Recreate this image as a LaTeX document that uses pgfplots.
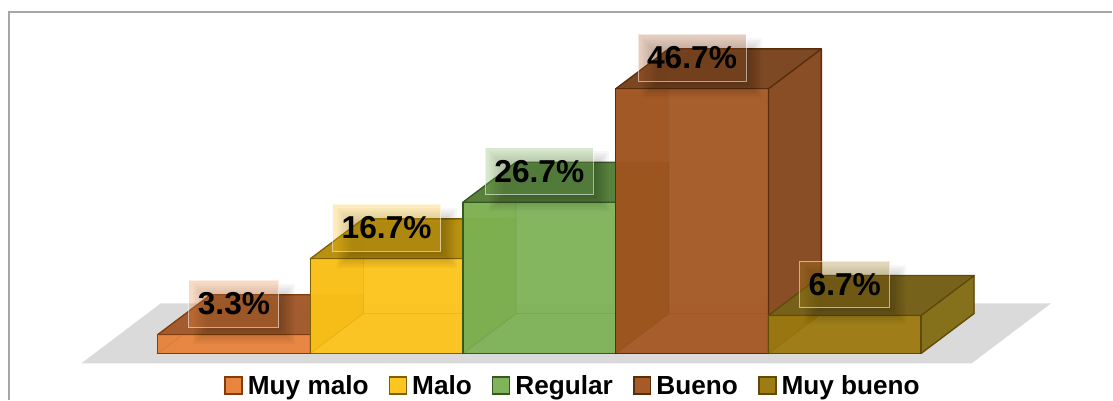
\documentclass[border=0pt]{standalone}
\usepackage{fontspec}
\setmainfont{Liberation Sans}
\usepackage{pgfplots}
\pgfplotsset{compat=1.18}

\definecolor{frameg}{HTML}{A6A6A6}
\definecolor{floorg}{HTML}{DBDADB}
% front, left wall, right wall, top, edge of each bar
\definecolor{oF}{HTML}{E8853F}\definecolor{oL}{HTML}{E07F3A}\definecolor{oR}{HTML}{A65B2C}\definecolor{oT}{HTML}{A05A2E}\definecolor{oE}{HTML}{843C0C}
\definecolor{yF}{HTML}{FCC51F}\definecolor{yL}{HTML}{F0B000}\definecolor{yR}{HTML}{B98E12}\definecolor{yT}{HTML}{B8900F}\definecolor{yE}{HTML}{7F6000}
\definecolor{gF}{HTML}{7FB45A}\definecolor{gL}{HTML}{74A53A}\definecolor{gR}{HTML}{557F3A}\definecolor{gT}{HTML}{557F3A}\definecolor{gE}{HTML}{385723}
\definecolor{bF}{HTML}{A65A28}\definecolor{bL}{HTML}{8F4608}\definecolor{bR}{HTML}{8A4D25}\definecolor{bT}{HTML}{7A4723}\definecolor{bE}{HTML}{5A2D0A}
\definecolor{uF}{HTML}{9E7C14}\definecolor{uL}{HTML}{8F6A00}\definecolor{uR}{HTML}{85701C}\definecolor{uT}{HTML}{75601C}\definecolor{uE}{HTML}{5F4A08}

% x: one unit per bar, y: percent; depth is the oblique offset of the back face
\def\dx{0.347}
\def\dy{7.05}

% \barbox{left}{value}{prefix of the colours}
\newcommand{\barbox}[3]{%
  \pgfmathsetmacro{\xa}{#1}%
  \pgfmathsetmacro{\xb}{#1+1}%
  \pgfmathsetmacro{\xc}{#1+\dx}%
  \pgfmathsetmacro{\xd}{#1+1+\dx}%
  \pgfmathsetmacro{\yt}{#2}%
  \pgfmathsetmacro{\yb}{#2+\dy}%
  % floor and back of the box
  \addplot[forget plot,fill=#3F,fill opacity=.9,draw=#3E,draw opacity=.3,line width=1pt] coordinates {(\xa,0) (\xb,0) (\xd,\dy) (\xc,\dy)} --cycle;
  \addplot[forget plot,fill=#3F,fill opacity=.9,draw=#3E,draw opacity=.3,line width=1pt] coordinates {(\xc,\dy) (\xd,\dy) (\xd,\yb) (\xc,\yb)} --cycle;
  % side walls, top and front
  \addplot[forget plot,fill=#3L,fill opacity=.9,draw=#3E,draw opacity=.3,line width=1pt] coordinates {(\xa,0) (\xc,\dy) (\xc,\yb) (\xa,\yt)} --cycle;
  \addplot[forget plot,fill=#3R,fill opacity=.97,draw=#3E,line width=1.3pt,line join=round] coordinates {(\xb,0) (\xd,\dy) (\xd,\yb) (\xb,\yt)} --cycle;
  \addplot[forget plot,fill=#3T,fill opacity=.95,draw=#3E,line width=1.3pt,line join=round] coordinates {(\xa,\yt) (\xb,\yt) (\xd,\yb) (\xc,\yb)} --cycle;
  \addplot[forget plot,fill=#3F,fill opacity=.72,draw=#3E,line width=1.3pt,line join=round] coordinates {(\xa,0) (\xb,0) (\xb,\yt) (\xa,\yt)} --cycle;
}

% soft shadow layer: \shadowlayer{x}{value}{half width}{grow}
\newcommand{\shadowlayer}[4]{%
  \fill[black,opacity=.03] ([xshift=#3+10pt+#4,yshift=31pt-24pt-10pt-#4]axis cs:#1,#2)
      rectangle ([xshift=-#3+10pt-#4,yshift=31pt+24pt-10pt+#4]axis cs:#1,#2);
}
% \barlabel{centre x}{value}{half width}{tint}
\newcommand{\barlabel}[4]{%
  \shadowlayer{#1}{#2}{#3}{-8pt}\shadowlayer{#1}{#2}{#3}{-6pt}\shadowlayer{#1}{#2}{#3}{-4pt}%
  \shadowlayer{#1}{#2}{#3}{-2pt}\shadowlayer{#1}{#2}{#3}{0pt}\shadowlayer{#1}{#2}{#3}{2pt}%
  \shadowlayer{#1}{#2}{#3}{4pt}\shadowlayer{#1}{#2}{#3}{6pt}%
  \node[fill=#4,fill opacity=.3,draw=white,draw opacity=.55,line width=1pt,text opacity=1,
        minimum width=2*#3,minimum height=47pt,inner sep=0pt,yshift=31pt,
        font=\fontsize{31.7}{34}\selectfont\bfseries] at (axis cs:#1,#2) {#2\%};
}

\begin{document}
\begin{tikzpicture}
\begin{axis}[
    scale only axis,
    width=1113pt,height=400pt,
    xmin=-1.032,xmax=6.2516,
    ymin=-8.169,ymax=62.377,
    hide axis,
    clip=false,
    legend columns=5,
    legend cell align=left,
    legend style={at={(rel axis cs:0.5152,0.0344)},anchor=center,draw=none,fill=none,
      font=\fontsize{26.2}{28}\selectfont\bfseries,inner sep=0pt,
      /tikz/every even column/.append style={column sep=18pt},
      /tikz/every odd column/.append style={column sep=3pt}},
    legend image code/.code={\draw[#1,line width=1.6pt] (0pt,-8pt) rectangle (17pt,9pt);},
]
% keeps the whole canvas in the bounding box
\path (rel axis cs:0,0) rectangle (rel axis cs:1,1);
% frame, left and top only
\draw[frameg,line width=1.6pt] (rel axis cs:0.0081,0) -- (rel axis cs:0.0081,0.97)
   -- (rel axis cs:1,0.97);
% floor
\addplot[forget plot,fill=floorg,draw=none] coordinates {(-0.5,-1.76) (5.33,-1.76) (5.85,8.82) (0.02,8.82)} --cycle;

\barbox{0}{3.3}{o}
\barbox{1}{16.7}{y}
\barbox{2}{26.7}{g}
\barbox{3}{46.7}{b}
\barbox{4}{6.7}{u}

\barlabel{0.5}{3.3}{45pt}{oF}
\barlabel{1.5}{16.7}{54pt}{yF}
\barlabel{2.5}{26.7}{54pt}{gF}
\barlabel{3.5}{46.7}{54pt}{bF}
\barlabel{4.5}{6.7}{45pt}{uF}

\addlegendimage{fill=oF,draw=oE}\addlegendentry{Muy malo}
\addlegendimage{fill=yF,draw=yE}\addlegendentry{Malo}
\addlegendimage{fill=gF,draw=gE}\addlegendentry{Regular}
\addlegendimage{fill=bF,draw=bE}\addlegendentry{Bueno}
\addlegendimage{fill=uF,draw=uE}\addlegendentry{Muy bueno}
\end{axis}
\end{tikzpicture}
\end{document}
